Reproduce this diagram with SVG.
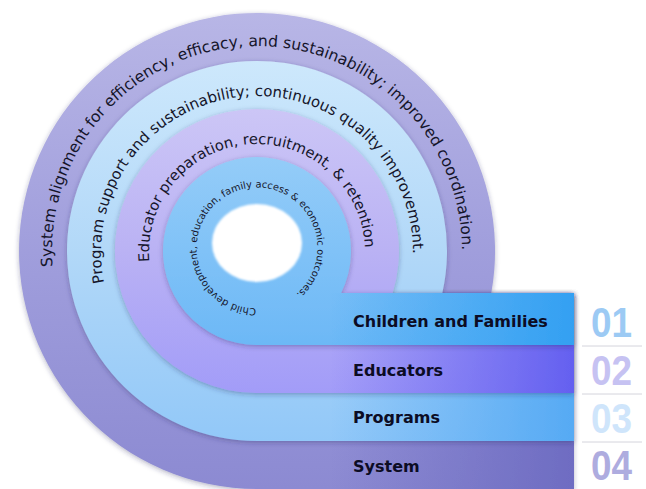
<svg xmlns="http://www.w3.org/2000/svg" width="646" height="489" viewBox="0 0 646 489">
  <style>
    .arc { font-family: "DejaVu Sans", Verdana, sans-serif; fill: #15152a; }
    .band { font-family: "DejaVu Sans", Verdana, sans-serif; font-weight: bold; font-size: 16px; fill: #0c0c24; }
    .num { font-family: "Liberation Sans", Arial, sans-serif; font-weight: bold; font-size: 42px; }
    .sep { stroke: #d4d4dc; stroke-width: 1; }
  </style>
  <defs>
    <filter id="shadow" x="-10%" y="-10%" width="120%" height="120%">
      <feDropShadow dx="0" dy="1.5" stdDeviation="2.5" flood-color="#2a2a5a" flood-opacity="0.35"/>
    </filter>
    <filter id="soft" x="-20%" y="-20%" width="140%" height="140%">
      <feGaussianBlur stdDeviation="1"/>
    </filter>

    <!-- vertical shading of each ring -->
    <linearGradient id="gSys" gradientUnits="userSpaceOnUse" x1="0" y1="13" x2="0" y2="489">
      <stop offset="0" stop-color="#b8b6e6"/>
      <stop offset="0.5" stop-color="#a09edc"/>
      <stop offset="1" stop-color="#8c8ad2"/>
    </linearGradient>
    <linearGradient id="gProg" gradientUnits="userSpaceOnUse" x1="0" y1="61" x2="0" y2="441">
      <stop offset="0" stop-color="#cde8fc"/>
      <stop offset="0.5" stop-color="#b2d8f8"/>
      <stop offset="1" stop-color="#92c8f8"/>
    </linearGradient>
    <linearGradient id="gEdu" gradientUnits="userSpaceOnUse" x1="0" y1="109" x2="0" y2="393">
      <stop offset="0" stop-color="#ccc6f6"/>
      <stop offset="0.5" stop-color="#bab2f4"/>
      <stop offset="1" stop-color="#a29cf8"/>
    </linearGradient>
    <linearGradient id="gChild" gradientUnits="userSpaceOnUse" x1="0" y1="157" x2="0" y2="345">
      <stop offset="0" stop-color="#94ccf8"/>
      <stop offset="1" stop-color="#6cb8f6"/>
    </linearGradient>

    <!-- horizontal deepening of the bands toward the right -->
    <linearGradient id="hSys" gradientUnits="userSpaceOnUse" x1="330" y1="0" x2="574" y2="0">
      <stop offset="0" stop-color="#6e6cc2" stop-opacity="0"/>
      <stop offset="1" stop-color="#6e6cc2" stop-opacity="1"/>
    </linearGradient>
    <linearGradient id="hProg" gradientUnits="userSpaceOnUse" x1="330" y1="0" x2="574" y2="0">
      <stop offset="0" stop-color="#56aaf4" stop-opacity="0"/>
      <stop offset="1" stop-color="#56aaf4" stop-opacity="1"/>
    </linearGradient>
    <linearGradient id="hEdu" gradientUnits="userSpaceOnUse" x1="330" y1="0" x2="574" y2="0">
      <stop offset="0" stop-color="#6460f0" stop-opacity="0"/>
      <stop offset="1" stop-color="#6460f0" stop-opacity="1"/>
    </linearGradient>
    <linearGradient id="hChild" gradientUnits="userSpaceOnUse" x1="330" y1="0" x2="574" y2="0">
      <stop offset="0" stop-color="#33a0f2" stop-opacity="0"/>
      <stop offset="1" stop-color="#33a0f2" stop-opacity="1"/>
    </linearGradient>

    <!-- baselines for the curved captions (clockwise arcs) -->
    <path id="arcSys" d="M 52.6 266.7 A 205 205 0 1 1 460.88 272.43"/>
    <path id="arcProg" d="M 104.02 282.57 A 156 156 0 1 1 412.14 268.31"/>
    <path id="arcEdu" d="M 149.44 261.79 A 108 108 0 1 1 363.36 270.75"/>
    <path id="arcChild" d="M 256.05 308.49 A 60.5 60.5 0 1 1 266.57 307.74"/>
  </defs>

  <!-- outermost ring: System -->
  <g id="ring-system">
    <g filter="url(#shadow)">
      <path d="M 491.3 293 H 574 V 489 H 257 A 238 238 0 1 1 491.3 293 Z" fill="url(#gSys)"/>
      <rect x="257" y="441" width="317" height="48" fill="url(#hSys)"/>
    </g>
    <text class="arc" font-size="15.6"><textPath href="#arcSys">System alignment for efficiency, efficacy, and sustainability; improved coordination.</textPath></text>
  </g>

  <!-- Programs ring -->
  <g id="ring-programs">
    <g filter="url(#shadow)">
      <path d="M 442.3 293 H 574 V 441 H 257 A 190 190 0 1 1 442.3 293 Z" fill="url(#gProg)"/>
      <rect x="257" y="393" width="317" height="48" fill="url(#hProg)"/>
    </g>
    <text class="arc" font-size="15"><textPath href="#arcProg">Program support and sustainability; continuous quality improvement.</textPath></text>
  </g>

  <!-- Educators ring -->
  <g id="ring-educators">
    <g filter="url(#shadow)">
      <path d="M 392.6 293 H 574 V 393 H 257 A 142 142 0 1 1 392.6 293 Z" fill="url(#gEdu)"/>
      <rect x="257" y="345" width="317" height="48" fill="url(#hEdu)"/>
    </g>
    <text class="arc" font-size="14.7"><textPath href="#arcEdu">Educator preparation, recruitment, &amp; retention</textPath></text>
  </g>

  <!-- innermost ring: Children and Families -->
  <g id="ring-children">
    <g filter="url(#shadow)">
      <path d="M 341.1 293 H 574 V 345 H 257 A 94 94 0 1 1 341.1 293 Z" fill="url(#gChild)"/>
      <rect x="257" y="293" width="317" height="52" fill="url(#hChild)"/>
    </g>
    <text class="arc" font-size="9.8"><textPath href="#arcChild">Child development, education, family access &amp; economic outcomes.</textPath></text>
  </g>

  <!-- open centre -->
  <g id="hole">
    <ellipse cx="257" cy="243" rx="45" ry="39" fill="#ffffff" filter="url(#soft)"/>
  </g>

  <!-- band titles -->
  <g id="labels">
    <text class="band" x="353" y="327">Children and Families</text>
    <text class="band" x="353" y="376">Educators</text>
    <text class="band" x="353" y="423">Programs</text>
    <text class="band" x="353" y="472">System</text>
  </g>

  <!-- level numbers with separators -->
  <g id="numbers">
    <line class="sep" x1="582" y1="346" x2="642" y2="346"/>
    <line class="sep" x1="582" y1="394" x2="642" y2="394"/>
    <line class="sep" x1="582" y1="442" x2="642" y2="442"/>
    <text class="num" x="591" y="337" fill="#9ccaf4" textLength="41" lengthAdjust="spacingAndGlyphs">01</text>
    <text class="num" x="591" y="385" fill="#c6c2f2" textLength="41" lengthAdjust="spacingAndGlyphs">02</text>
    <text class="num" x="591" y="433" fill="#cfe5fb" textLength="41" lengthAdjust="spacingAndGlyphs">03</text>
    <text class="num" x="591" y="480" fill="#aeacdf" textLength="41" lengthAdjust="spacingAndGlyphs">04</text>
  </g>
</svg>
